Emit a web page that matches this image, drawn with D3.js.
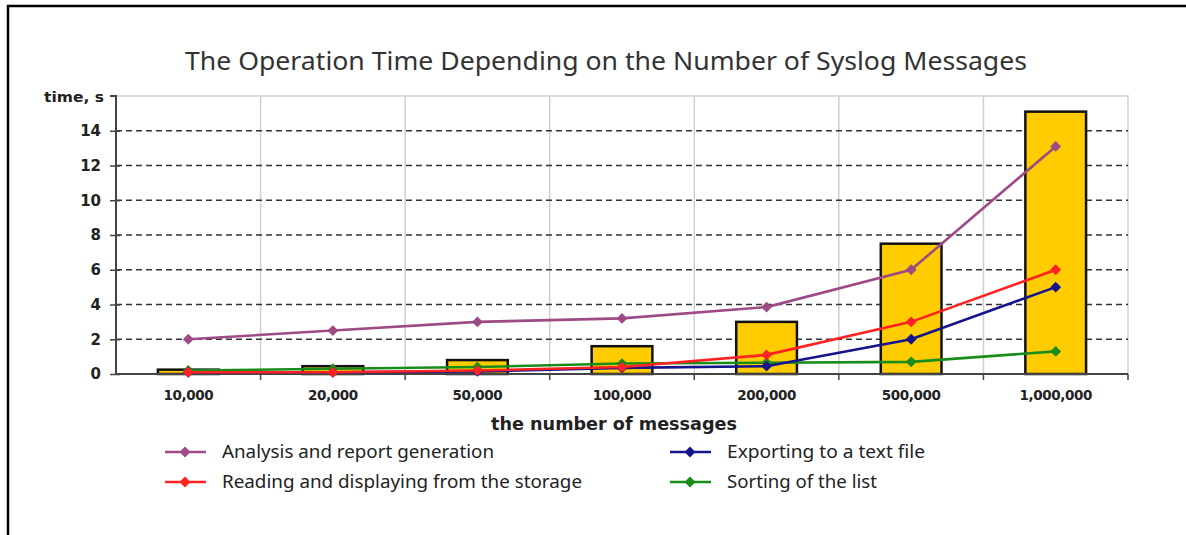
<!DOCTYPE html>
<html>
<head>
<meta charset="utf-8">
<script src="https://cdn.jsdelivr.net/npm/d3@7"></script>
<style>
  html, body { margin: 0; padding: 0; background: #fff; }
  svg { display: block; }
</style>
</head>
<body>
<svg id="chart" width="1186" height="535"></svg>
<script>
// Message counts on the x axis
const categories = ["10,000", "20,000", "50,000", "100,000", "200,000", "500,000", "1,000,000"];
// Total operation time (bars), seconds
const totalTime = [0.25, 0.45, 0.8, 1.6, 3.0, 7.5, 15.1];
// Individual operations (lines), seconds
const analysis = [2.0, 2.5, 3.0, 3.2, 3.85, 6.0, 13.1];
const reading  = [0.1, 0.1, 0.2, 0.4, 1.1, 3.0, 6.0];
const exporting = [0.1, 0.1, 0.15, 0.35, 0.45, 2.0, 5.0];
const sorting  = [0.2, 0.3, 0.4, 0.6, 0.65, 0.7, 1.3];
const yTicks = [0, 2, 4, 6, 8, 10, 12, 14];

const series = [
  { name: "Analysis and report generation", values: analysis, color: "#9e4a86" },
  { name: "Reading and displaying from the storage", values: reading, color: "#ff2222" },
  { name: "Exporting to a text file", values: exporting, color: "#14148c" },
  { name: "Sorting of the list", values: sorting, color: "#1a8c1a" }
];

const svg = d3.select("#chart");
const margin = { left: 116, right: 1128, top: 96, bottom: 374 };
const sans = "Noto Sans, Open Sans, sans-serif";
const boldFont = "DejaVu Sans, Verdana, sans-serif";

// Outer frame (top and left edges)
svg.append("path")
  .attr("d", "M8,535 V6 H1186")
  .attr("fill", "none").attr("stroke", "#000").attr("stroke-width", 2.5);

const x = d3.scaleBand().domain(categories).range([margin.left, margin.right]).padding(0);
const y = d3.scaleLinear().domain([0, 16]).range([margin.bottom, margin.top]);

// Title
svg.append("text")
  .attr("x", 606).attr("y", 70)
  .attr("text-anchor", "middle")
  .attr("font-family", sans)
  .attr("font-size", 25)
  .attr("fill", "#333")
  .attr("textLength", 842).attr("lengthAdjust", "spacingAndGlyphs")
  .text("The Operation Time Depending on the Number of Syslog Messages");

// Plot frame (top and right) in light grey
svg.append("path")
  .attr("d", `M${margin.left},${margin.top} H${margin.right} V${margin.bottom}`)
  .attr("fill", "none").attr("stroke", "#cfcfcf").attr("stroke-width", 1.5);

// Vertical grid lines at category boundaries
const boundaries = categories.slice(1).map(c => x(c));
svg.append("g").selectAll("line").data(boundaries).join("line")
  .attr("x1", d => d).attr("x2", d => d)
  .attr("y1", margin.top).attr("y2", margin.bottom)
  .attr("stroke", "#cfcfcf").attr("stroke-width", 1.5);

// Horizontal dashed grid lines
svg.append("g").selectAll("line").data(yTicks.filter(d => d > 0)).join("line")
  .attr("x1", margin.left).attr("x2", margin.right)
  .attr("y1", d => y(d)).attr("y2", d => y(d))
  .attr("stroke", "#333").attr("stroke-width", 1.6)
  .attr("stroke-dasharray", "6,4");

// Bars: total time
svg.append("g").selectAll("rect").data(totalTime).join("rect")
  .attr("x", (d, i) => x(categories[i]) + x.bandwidth() * 0.29)
  .attr("width", x.bandwidth() * 0.42)
  .attr("y", d => y(d))
  .attr("height", d => y(0) - y(d))
  .attr("fill", "#ffcc00")
  .attr("stroke", "#111").attr("stroke-width", 2.5);

// Y axis
const yAxis = svg.append("g")
  .attr("transform", `translate(${margin.left},0)`)
  .call(d3.axisLeft(y).tickValues(yTicks).tickSize(6).tickSizeOuter(0));
yAxis.select(".domain").remove();
yAxis.selectAll(".tick line").attr("x2", 4).attr("x1", -6).attr("stroke", "#444").attr("stroke-width", 1.5);
yAxis.selectAll(".tick text")
  .attr("x", -15)
  .attr("font-family", boldFont)
  .attr("font-weight", "bold").attr("font-size", 15).attr("fill", "#222");
svg.append("path")
  .attr("d", `M${margin.left - 6},${margin.top} H${margin.left} V${margin.bottom}`)
  .attr("fill", "none").attr("stroke", "#444").attr("stroke-width", 2);

svg.append("text")
  .attr("x", 104).attr("y", 102)
  .attr("text-anchor", "end")
  .attr("font-family", boldFont)
  .attr("font-weight", "bold").attr("font-size", 14).attr("fill", "#222")
  .attr("textLength", 60).attr("lengthAdjust", "spacingAndGlyphs")
  .text("time, s");

// X axis
const xAxis = svg.append("g")
  .attr("transform", `translate(0,${margin.bottom})`)
  .call(d3.axisBottom(x).tickSize(0).tickPadding(16));
xAxis.select(".domain").attr("stroke", "#444").attr("stroke-width", 2)
  .attr("d", `M${margin.left},0 H${margin.right}`);
xAxis.selectAll(".tick text")
  .attr("font-family", boldFont)
  .attr("font-weight", "bold").attr("font-size", 13.5).attr("fill", "#222")
  .attr("letter-spacing", -0.4);
svg.append("g").selectAll("line").data(boundaries.concat([margin.right])).join("line")
  .attr("x1", d => d).attr("x2", d => d)
  .attr("y1", margin.bottom).attr("y2", margin.bottom + 6)
  .attr("stroke", "#444").attr("stroke-width", 1.5);

svg.append("text")
  .attr("x", 614).attr("y", 430)
  .attr("text-anchor", "middle")
  .attr("font-family", boldFont)
  .attr("font-weight", "bold").attr("font-size", 17).attr("fill", "#222")
  .attr("textLength", 246).attr("lengthAdjust", "spacingAndGlyphs")
  .text("the number of messages");

// Lines with diamond markers
const cx = i => x(categories[i]) + x.bandwidth() / 2;
const line = d3.line().x((d, i) => cx(i)).y(d => y(d));
const diamond = d3.symbol().type(d3.symbolDiamond2).size(75);

// Draw so that the analysis line ends up on top, sorting beneath
const drawOrder = [series[3], series[2], series[1], series[0]];
drawOrder.forEach(s => {
  const g = svg.append("g");
  g.append("path").datum(s.values)
    .attr("d", line)
    .attr("fill", "none").attr("stroke", s.color).attr("stroke-width", 2.6);
  g.selectAll("path.m").data(s.values).join("path")
    .attr("class", "m")
    .attr("transform", (d, i) => `translate(${cx(i)},${y(d)})`)
    .attr("d", diamond)
    .attr("fill", s.color);
});

// Legend
const legendPos = [
  { x: 165, y: 452, w: 272 }, { x: 165, y: 482, w: 360 },
  { x: 670, y: 452, w: 198 }, { x: 670, y: 482, w: 150 }
];
series.forEach((s, i) => {
  const p = legendPos[i];
  const g = svg.append("g").attr("transform", `translate(${p.x},${p.y})`);
  g.append("line").attr("x1", 0).attr("x2", 41).attr("y1", 0).attr("y2", 0)
    .attr("stroke", s.color).attr("stroke-width", 2.6);
  g.append("path").attr("transform", "translate(20,0)").attr("d", diamond).attr("fill", s.color);
  g.append("text").attr("x", 57).attr("y", 6)
    .attr("font-family", sans)
    .attr("font-size", 18).attr("fill", "#222")
    .attr("textLength", p.w).attr("lengthAdjust", "spacingAndGlyphs")
    .text(s.name);
});
</script>
</body>
</html>
